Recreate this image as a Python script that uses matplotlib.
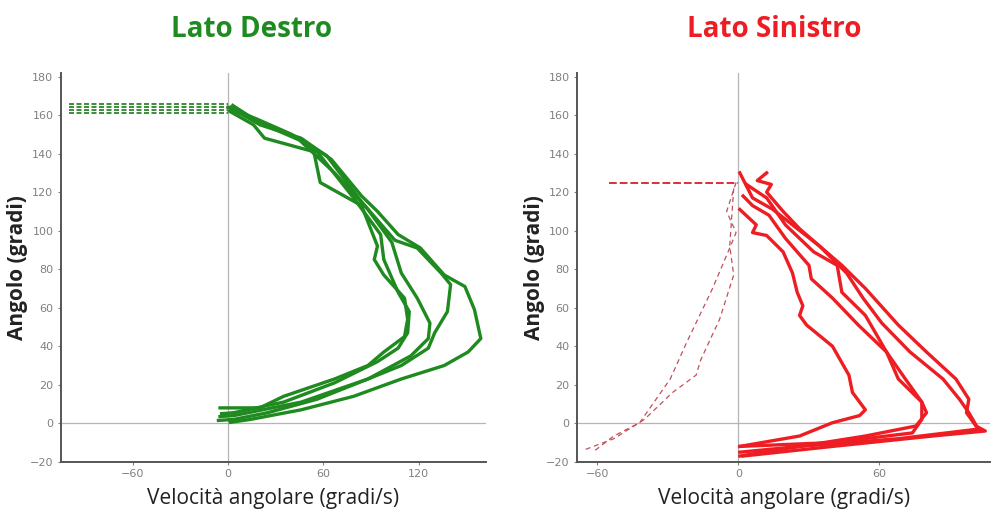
import matplotlib.pyplot as plt

GREEN = '#1f8a1f'
RED = '#ee1d23'

# Lato Destro - velocity (deg/s) and angle (deg) of each repetition
destro_1_v = [1.5, 20, 46, 65, 84, 94, 107, 121, 136, 149, 155, 159, 151, 136, 109, 79, 46, 14, 1.5]
destro_1_a = [164, 155, 148, 137, 118, 110, 98, 91, 77, 71, 59, 44, 37, 30, 23, 14, 7, 2, 0.5]
destro_2_v = [3, 18, 42, 62, 84, 105, 119, 134, 140, 138, 130, 126, 109, 88, 56, 25, 3.6, -6]
destro_2_a = [165, 157, 149, 139, 115, 95, 91, 78, 72, 58, 47, 39, 30, 23, 12.5, 5.5, 2, 1.5]
destro_3_v = [2, 20, 45, 67, 88, 103, 109, 119, 127, 126, 115, 88, 46, 3.6, -5]
destro_3_a = [163, 156, 147, 130, 111, 94, 78, 65, 52, 44, 35, 23, 11, 4, 3.5]
destro_4_v = [0, 18, 40, 56, 79, 96, 98, 107, 114, 113, 107, 94, 67, 35, 3.6, -4]
destro_4_a = [164, 158, 150, 141, 117, 98, 85, 68, 58, 47, 39, 32, 21, 11, 5.5, 5]
destro_5_v = [1, 16, 23, 54, 58, 84, 94, 92, 98, 111, 113, 111, 98, 88, 67, 35, 20, -5]
destro_5_a = [162, 155, 148, 141, 125, 113, 92, 85, 77, 65, 54, 45, 37, 30, 23, 14, 8, 8]
destro_dash_a = [165.5, 164, 162.5, 161]
destro_dash_v0 = -100

# Lato Sinistro
sinistro_1_v = [12, 8, 14, 12, 19, 26, 34.5, 44, 54, 68, 80, 92.5, 98, 97, 101, 105, 82.6, 40, 2]
sinistro_1_a = [130, 126, 124, 120, 110, 101, 92, 82, 70, 51, 37, 23, 12.5, 5.5, -1.4, -4, -6.6, -12, -17]
sinistro_2_v = [0.6, 6, 14.7, 23, 34.5, 46, 53, 61, 73, 87, 94, 98, 102, 68, 26, 0.6]
sinistro_2_a = [130, 117, 111, 103, 92, 78, 65, 52, 37, 23, 12.5, 5.5, -3, -8, -12, -15]
sinistro_3_v = [3.4, 12, 20, 32, 42, 44, 54, 63, 71, 78, 78, 74, 40, 0.6]
sinistro_3_a = [124, 117, 103, 89, 82, 68, 56, 37, 23, 11, 2, -5, -10, -12]
sinistro_4_v = [2, 6, 13, 20, 30, 31, 40, 51, 63, 68, 78, 80, 75.5, 54, 26, 0.6]
sinistro_4_a = [118, 113, 108, 96, 82, 75, 65, 51, 37, 23, 11, 5.5, -1.4, -6.6, -12, -17]
sinistro_5_v = [0.6, 7.6, 6, 12, 19, 23, 25, 27.4, 26, 29, 40, 47, 48.5, 54, 51.5, 40, 26, 0.6]
sinistro_5_a = [111, 103, 99, 97.5, 89, 78, 68, 61, 56, 51, 40, 25, 16, 7, 4, 0.3, -6.6, -12]
sinistro_dash_v = [-55, 0]
sinistro_dash_a = [125, 125]
sinistro_dash_1_v = [-2, -3.7, -2, -8, -16, -18, -28, -40, -53, -66]
sinistro_dash_1_a = [122, 92, 77, 54, 33, 25, 16, 2, -8, -14]
sinistro_dash_2_v = [-1, -5, -1, -3.7, -11, -22, -29, -42, -53, -62]
sinistro_dash_2_a = [125, 110, 99, 91, 70, 42, 23, 0.3, -6.6, -15]

y_ticks = [-20, 0, 20, 40, 60, 80, 100, 120, 140, 160, 180]


def style_axes(ax, xlim, xticks):
    ax.set_xlim(*xlim)
    ax.set_ylim(-20, 182)
    ax.set_xticks(xticks)
    ax.set_yticks(y_ticks)
    ax.axvline(0, color='#b5b5b5', lw=0.9, zorder=0)
    ax.axhline(0, color='#b5b5b5', lw=0.9, zorder=0)
    for s in ['top', 'right']:
        ax.spines[s].set_visible(False)
    for s in ['left', 'bottom']:
        ax.spines[s].set_color('#555555')
        ax.spines[s].set_linewidth(1.4)
    ax.tick_params(labelsize=8, colors='#808080', length=2, width=0.8)
    ax.set_xlabel('Velocità angolare (gradi/s)', fontsize=15, color='#222222',
                  family='Open Sans', labelpad=6)
    ax.set_ylabel('Angolo (gradi)', fontsize=15, color='#222222',
                  family='Open Sans', fontweight='bold', labelpad=1)


fig = plt.figure(figsize=(9.92, 5.12), dpi=100)
ax1 = fig.add_axes([0.0615, 0.098, 0.428, 0.76])
ax2 = fig.add_axes([0.582, 0.098, 0.416, 0.76])

for a in destro_dash_a:
    ax1.plot([destro_dash_v0, 0], [a, a], color='#1a7a1a', lw=1.2, ls=(0, (3, 1.5)))
for v, a in [(destro_1_v, destro_1_a), (destro_2_v, destro_2_a), (destro_3_v, destro_3_a),
             (destro_4_v, destro_4_a), (destro_5_v, destro_5_a)]:
    ax1.plot(v, a, color=GREEN, lw=2.4, solid_joinstyle='round')
style_axes(ax1, (-105, 162), [-60, 0, 60, 120])

ax2.plot(sinistro_dash_v, sinistro_dash_a, color='#d8303a', lw=1.4, ls=(0, (4, 1.5)))
ax2.plot(sinistro_dash_1_v, sinistro_dash_1_a, color='#c0505a', lw=0.9, ls=(0, (4, 3)))
ax2.plot(sinistro_dash_2_v, sinistro_dash_2_a, color='#c0505a', lw=0.9, ls=(0, (4, 3)))
for v, a in [(sinistro_1_v, sinistro_1_a), (sinistro_2_v, sinistro_2_a), (sinistro_3_v, sinistro_3_a),
             (sinistro_4_v, sinistro_4_a), (sinistro_5_v, sinistro_5_a)]:
    ax2.plot(v, a, color=RED, lw=2.4, solid_joinstyle='round')
style_axes(ax2, (-68.5, 107), [-60, 0, 60])

fig.text(0.254, 0.943, 'Lato Destro', color=GREEN, fontsize=20, fontweight='bold',
         family='Open Sans', ha='center', va='center')
fig.text(0.78, 0.943, 'Lato Sinistro', color=RED, fontsize=20, fontweight='bold',
         family='Open Sans', ha='center', va='center')

fig.savefig('out.png', dpi=100)
